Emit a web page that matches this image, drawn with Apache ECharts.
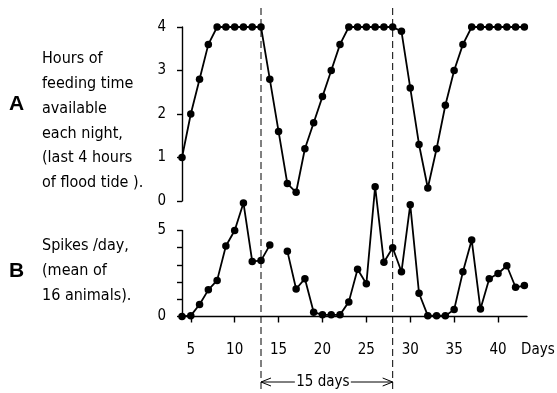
<!DOCTYPE html>
<html><head><meta charset="utf-8">
<script src="https://cdn.jsdelivr.net/npm/echarts@6/dist/echarts.min.js"></script>
<style>html,body{margin:0;padding:0;background:#fff}#c{width:557px;height:393px}</style>
</head><body><div id="c"></div>
<script>
const days = [4,5,6,7,8,9,10,11,12,13,14,15,16,17,18,19,20,21,22,23,24,25,26,27,28,29,30,31,32,33,34,35,36,37,38,39,40,41,42,43];
const feedingHours = [1.0,2.0,2.8,3.6,4,4,4,4,4,4,2.8,1.6,0.4,0.2,1.2,1.8,2.4,3.0,3.6,4,4,4,4,4,4,3.9,2.6,1.3,0.3,1.2,2.2,3.0,3.6,4,4,4,4,4,4,4];
const spikesPerDay = [0,0.05,0.7,1.55,2.1,4.1,5.0,6.6,3.2,3.25,4.15,null,3.8,1.6,2.2,0.25,0.1,0.1,0.1,0.85,2.75,1.9,7.55,3.15,4.0,2.6,6.5,1.35,0.05,0.05,0.05,0.4,2.6,4.45,0.43,2.2,2.5,2.95,1.7,1.8];
const dayTicks = [5,10,15,20,25,30,35,40];
const hourTicks = [0,1,2,3,4];
const spikeTicks = [0,1,2,3,4,5];
const spikeLabels = [0,5];
const markerDays = [13,28];
const periodLabel = '15 days';

const FONT = '"DejaVu Sans Condensed","DejaVu Sans",sans-serif';
const chart = echarts.init(document.getElementById('c'), null, {renderer:'canvas'});
const xMin = 4, xMax = 43.3;
const topData = days.map((d,i)=>[d, feedingHours[i]]);
const botData = days.map((d,i)=>[d, spikesPerDay[i]]);
const axisLineStyle = {color:'#000', width:1.4};
const lblStyle = {color:'#000', fontFamily:FONT, fontSize:15};

chart.setOption({
  animation:false,
  backgroundColor:'#fff',
  grid:[
    {left:182, right:30, top:27, height:174},
    {left:182, right:30, top:230.5, height:86}
  ],
  xAxis:[
    {gridIndex:0, type:'value', min:xMin, max:xMax, show:false},
    {gridIndex:1, type:'value', min:xMin, max:xMax, offset:16,
     axisLine:{show:true, lineStyle:axisLineStyle},
     axisTick:{show:true, length:6, customValues:dayTicks, lineStyle:axisLineStyle},
     axisLabel:{customValues:dayTicks, margin:10, ...lblStyle},
     splitLine:{show:false}}
  ],
  yAxis:[
    {gridIndex:0, type:'value', min:0, max:4, interval:1,
     axisLine:{show:true, lineStyle:axisLineStyle},
     axisTick:{show:true, length:5, customValues:hourTicks, lineStyle:axisLineStyle},
     axisLabel:{margin:16, customValues:hourTicks, ...lblStyle},
     splitLine:{show:false}},
    {gridIndex:1, type:'value', min:0, max:5, interval:1,
     axisLine:{show:true, lineStyle:axisLineStyle},
     axisTick:{show:true, length:5, customValues:spikeTicks, lineStyle:axisLineStyle},
     axisLabel:{margin:16, customValues:spikeLabels, ...lblStyle},
     splitLine:{show:false}}
  ],
  series:[
    {type:'line', xAxisIndex:0, yAxisIndex:0, data:topData, symbol:'circle', symbolSize:7.5,
     itemStyle:{color:'#000'}, lineStyle:{color:'#000', width:1.8}, clip:false},
    {type:'line', xAxisIndex:1, yAxisIndex:1, data:botData, symbol:'circle', symbolSize:7.5,
     connectNulls:false,
     itemStyle:{color:'#000'}, lineStyle:{color:'#000', width:1.8}, clip:false}
  ]
});

const px = d => chart.convertToPixel({xAxisIndex:1}, d);
const x1 = px(markerDays[0]), x2 = px(markerDays[1]);
const ay = 382, mid = (x1+x2)/2;
const g = [];
markerDays.forEach(d=>{
  const x = px(d);
  g.push({type:'line', shape:{x1:x, y1:8, x2:x, y2:392}, style:{stroke:'#000', lineWidth:1, lineDash:[7,4]}});
});
g.push({type:'polyline', shape:{points:[[x1,ay],[mid-32,ay]]}, style:{stroke:'#000', lineWidth:1, fill:null}});
g.push({type:'polyline', shape:{points:[[mid+24,ay],[x2,ay]]}, style:{stroke:'#000', lineWidth:1, fill:null}});
g.push({type:'polyline', shape:{points:[[x1+10,ay-4],[x1,ay],[x1+10,ay+4]]}, style:{stroke:'#000', lineWidth:1, fill:null}});
g.push({type:'polyline', shape:{points:[[x2-10,ay-4],[x2,ay],[x2-10,ay+4]]}, style:{stroke:'#000', lineWidth:1, fill:null}});
g.push({type:'text', x:mid-4, y:ay, style:{text:periodLabel, font:'15px '+FONT, fill:'#000', align:'center', verticalAlign:'middle'}});
g.push({type:'text', x:521, y:350, style:{text:'Days', font:'15px '+FONT, fill:'#000', align:'left', verticalAlign:'middle'}});
// panel labels
const aLines = ['Hours of','feeding time','available','each night,','(last 4 hours','of flood tide ).'];
aLines.forEach((t,i)=>g.push({type:'text', x:42, y:59+i*24.8, style:{text:t, font:'16px '+FONT, fill:'#000', align:'left', verticalAlign:'middle'}}));
const bLines = ['Spikes /day,','(mean of','16 animals).'];
bLines.forEach((t,i)=>g.push({type:'text', x:42, y:246+i*25, style:{text:t, font:'16px '+FONT, fill:'#000', align:'left', verticalAlign:'middle'}}));
g.push({type:'text', x:9, y:104, style:{text:'A', font:'bold 21px "Liberation Sans",sans-serif', fill:'#000', align:'left', verticalAlign:'middle'}});
g.push({type:'text', x:9, y:271, style:{text:'B', font:'bold 21px "Liberation Sans",sans-serif', fill:'#000', align:'left', verticalAlign:'middle'}});
chart.setOption({graphic:g});
</script></body></html>
